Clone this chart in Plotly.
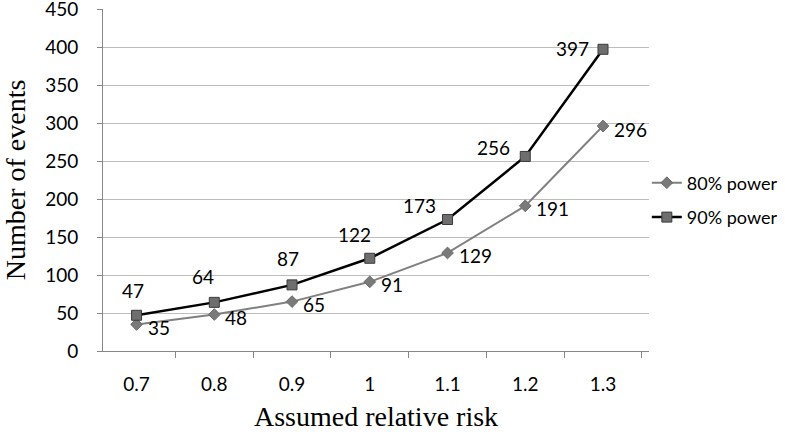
import plotly.graph_objects as go

categories = ["0.7", "0.8", "0.9", "1", "1.1", "1.2", "1.3"]
power80 = [35, 48, 65, 91, 129, 191, 296]
power90 = [47, 64, 87, 122, 173, 256, 397]
yticks = [0, 50, 100, 150, 200, 250, 300, 350, 400, 450]

# label offsets (pixels) for the 90% series labels
off90 = [(-4, 25), (-11, 26), (-4, 26), (-15, 24), (-28, 14), (-32, 9), (-31, 1)]

fig = go.Figure()
fig.add_trace(go.Scatter(
    x=categories, y=power80, name="80% power", mode="lines+markers", legendgroup="a",
    line=dict(color="#808080", width=2),
    marker=dict(symbol="diamond", size=9, color="#7a7a7a", line=dict(color="#6a6a6a", width=1)),
))
fig.add_trace(go.Scatter(
    x=categories, y=power90, name="90% power", mode="lines+markers", legendgroup="b",
    line=dict(color="#000000", width=2.5),
    marker=dict(symbol="square", size=10, color="#6e6e6e", line=dict(color="#3a3a3a", width=1)),
))

font_num = dict(family="Lato, Open Sans, sans-serif", size=19, color="#000000")
for i, v in enumerate(power80):
    fig.add_annotation(x=i, y=v, xref="x", yref="y", text=str(v), showarrow=False,
                       xanchor="left", xshift=9, yshift=-3, font=font_num)
for i, (v, (dx, dy)) in enumerate(zip(power90, off90)):
    fig.add_annotation(x=i, y=v, xref="x", yref="y", text=str(v), showarrow=False,
                       xanchor="center", xshift=dx, yshift=dy, font=font_num)

fig.update_layout(
    width=785, height=432,
    margin=dict(l=103, r=136, t=9, b=81, autoexpand=False),
    paper_bgcolor="white", plot_bgcolor="white",
    showlegend=True,
    legend=dict(xref="container", yref="container", x=0.824, y=0.537,
                xanchor="left", yanchor="middle", traceorder="grouped",
                font=dict(family="Lato, Open Sans, sans-serif", size=18, color="#000000"),
                itemwidth=30, tracegroupgap=8, bgcolor="rgba(0,0,0,0)"),
    font=dict(family="Lato, Open Sans, sans-serif", size=19, color="#000000"),
)
fig.update_xaxes(
    type="category", showgrid=False, showline=True, linecolor="#868686", linewidth=1,
    ticks="outside", ticklen=6, tickcolor="#868686", tickson="boundaries",
    ticklabelstandoff=16, automargin=False,
    tickfont=dict(family="Lato, Open Sans, sans-serif", size=19),
    title=dict(text="Assumed relative risk", font=dict(family="Liberation Serif, Times New Roman, serif", size=28), standoff=15),
)
fig.update_yaxes(
    range=[0, 450], tickvals=yticks, showgrid=True, gridcolor="#bdbdbd", gridwidth=1,
    showline=True, linecolor="#868686", linewidth=1, zeroline=False,
    ticks="outside", ticklen=5, tickcolor="#868686", ticklabelstandoff=15, automargin=False,
    ticklabeloverflow="allow",
    tickfont=dict(family="Lato, Open Sans, sans-serif", size=19),
    title=dict(text="Number of events", font=dict(family="Liberation Serif, Times New Roman, serif", size=28), standoff=38),
)

fig.write_html("out.html", config={"displayModeBar": False},
               post_script="document.body.style.margin='0';document.body.style.overflow='hidden';")
